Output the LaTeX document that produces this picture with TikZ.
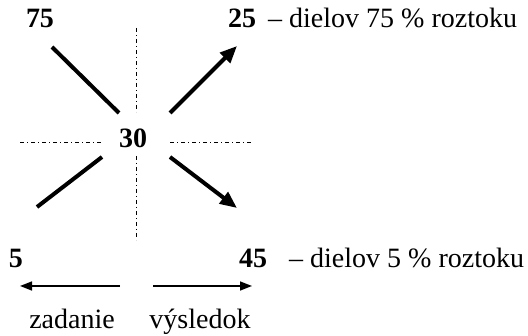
\documentclass[tikz,border=0pt]{standalone}
\usepackage{fontspec}
\setmainfont{Liberation Serif}
\usetikzlibrary{arrows.meta}
\begin{document}
\begin{tikzpicture}[x=1pt,y=-1pt,
  num/.style={font=\fontsize{28}{32}\selectfont\bfseries, inner sep=0pt, anchor=base},
  txt/.style={font=\fontsize{28}{32}\selectfont, inner sep=0pt, anchor=base west},
  lbl/.style={font=\fontsize{28}{32}\selectfont, inner sep=0pt, anchor=base},
  thick line/.style={line width=4pt},
  thick arrow/.style={line width=4pt, -{Triangle[length=17pt,width=14pt]}},
  thin arrow/.style={line width=1.6pt, -{Triangle[length=12pt,width=9pt]}},
  axis/.style={line width=0.9pt, dash pattern=on 4pt off 3pt on 1pt off 3pt}]
\useasboundingbox (0,0) rectangle (528,336);
% numbers
\node[num] (n75) at (40,28) {75};
\node[num] (n25) at (242,28) {25};
\node[num] (n30) at (133,148) {30};
\node[num] (n5) at (16,268) {5};
\node[num] (n45) at (253,268) {45};
\node[txt] (t1) at (268,28) {– dielov 75 \% roztoku};
\node[txt] (t2) at (289,268) {– dielov 5 \% roztoku};
\node[lbl] (zad) at (72,329) {zadanie};
\node[lbl] (vys) at (200,329) {výsledok};
% axes
\coordinate (vt) at (136,28);
\coordinate (vm1) at (136,112);
\coordinate (vm2) at (136,156);
\coordinate (vb) at (136,240);
\coordinate (hl1) at (20,142);
\coordinate (hl2) at (103,142);
\coordinate (hr1) at (170,142);
\coordinate (hr2) at (252,142);
\draw[axis] (vt) -- (vm1);
\draw[axis] (vm2) -- (vb);
\draw[axis] (hl1) -- (hl2);
\draw[axis] (hr1) -- (hr2);
% diagonals
\coordinate (a1) at (52,47);
\coordinate (a2) at (119,113);
\coordinate (b1) at (170,113);
\coordinate (b2) at (237,46);
\coordinate (c1) at (102,157);
\coordinate (c2) at (37,207);
\coordinate (d1) at (170,157);
\coordinate (d2) at (237,208);
\draw[thick line] (a1) -- (a2);
\draw[thick arrow] (b1) -- (b2);
\draw[thick line] (c1) -- (c2);
\draw[thick arrow] (d1) -- (d2);
% bottom arrows
\coordinate (l1) at (120,286);
\coordinate (l2) at (20,286);
\coordinate (r1) at (153,286);
\coordinate (r2) at (252,286);
\draw[thin arrow] (l1) -- (l2);
\draw[thin arrow] (r1) -- (r2);
\end{tikzpicture}
\end{document}
